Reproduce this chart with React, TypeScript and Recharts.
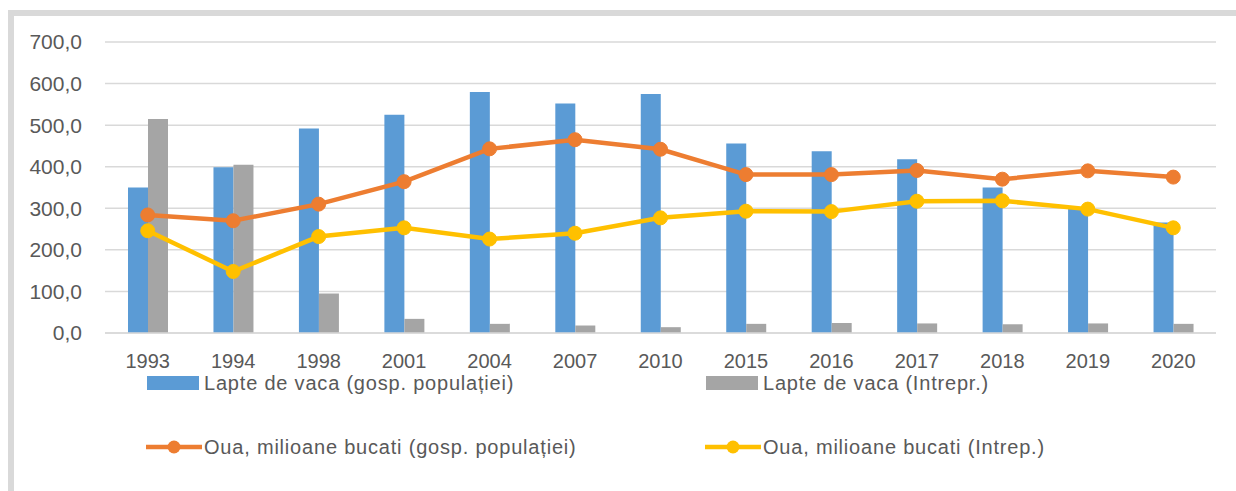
import React from 'react';
import { ComposedChart, Bar, Line, XAxis, YAxis, CartesianGrid, Legend } from 'recharts';

const years = ['1993', '1994', '1998', '2001', '2004', '2007', '2010', '2015', '2016', '2017', '2018', '2019', '2020'];
const milkHouseholds = [350, 399, 492, 525, 580, 552, 575, 456, 437, 418, 350, 303, 266];
const milkEnterprises = [515, 405, 95, 34, 22, 18, 14, 22, 24, 23, 21, 23, 22];
const eggsHouseholds = [284, 270, 310, 364, 443, 465, 442, 381, 381, 391, 370, 390, 375];
const eggsEnterprises = [246, 148, 232, 253, 226, 240, 277, 293, 292, 317, 318, 298, 253];
const yTicks = [0, 100, 200, 300, 400, 500, 600, 700];

const data = years.map((year, i) => ({
  year,
  milkHouse: milkHouseholds[i],
  milkEnt: milkEnterprises[i],
  eggsHouse: eggsHouseholds[i],
  eggsEnt: eggsEnterprises[i],
}));

const FONT = '"Liberation Sans", Arial, sans-serif';
const TEXT = '#595959';

// where each legend entry goes (column, row)
const legendSlots: Record<string, { left: number; top: number; kind: 'bar' | 'line' }> = {
  milkHouse: { left: 0, top: 0, kind: 'bar' },
  milkEnt: { left: 559, top: 0, kind: 'bar' },
  eggsHouse: { left: 0, top: 64, kind: 'line' },
  eggsEnt: { left: 559, top: 64, kind: 'line' },
};

const renderLegend = (props: any) => {
  const payload = props.payload || [];
  return (
    <div style={{ position: 'relative', width: 1000, height: 0 }}>
      {payload.map((entry: any) => {
        const slot = legendSlots[entry.dataKey];
        if (!slot) return null;
        return (
          <div
            key={entry.dataKey}
            style={{ position: 'absolute', left: slot.left, top: slot.top, display: 'flex', alignItems: 'center', whiteSpace: 'nowrap' }}
          >
            <svg width={56} height={22} style={{ display: 'block' }}>
              {slot.kind === 'bar' ? (
                <rect x={1} y={4} width={52} height={14} fill={entry.color} />
              ) : (
                <g>
                  <line x1={0} y1={11} x2={56} y2={11} stroke={entry.color} strokeWidth={4.5} strokeLinecap="round" />
                  <circle cx={28} cy={11} r={6.5} fill={entry.color} />
                </g>
              )}
            </svg>
            <span style={{ fontFamily: FONT, fontSize: 20, lineHeight: '22px', color: TEXT, letterSpacing: 0.8, marginLeft: 2 }}>
              {entry.value}
            </span>
          </div>
        );
      })}
    </div>
  );
};

export default function App() {
  return (
    <div style={{ position: 'absolute', left: 0, top: 0, width: 1236, height: 491, overflow: 'hidden', background: '#fff' }}>
      <div
        style={{
          position: 'absolute',
          left: 8,
          top: 10,
          width: 1300,
          height: 600,
          borderTop: '6px solid #d9d9d9',
          borderLeft: '6px solid #d9d9d9',
          boxSizing: 'border-box',
        }}
      />
      <div style={{ position: 'absolute', left: 0, top: 0 }}>
        <ComposedChart
          width={1236}
          height={491}
          data={data}
          barGap={0}
          margin={{ top: 42, right: 20, left: 0, bottom: 118 }}
        >
          <CartesianGrid vertical={false} stroke="#d9d9d9" strokeWidth={1.5} />
          <XAxis
            dataKey="year"
            height={40}
            tickLine={false}
            axisLine={{ stroke: '#d9d9d9', strokeWidth: 1.5 }}
            tickSize={0}
            tickMargin={21}
            tick={{ fill: TEXT, fontSize: 20, fontFamily: FONT }}
            interval={0}
          />
          <YAxis
            width={105}
            domain={[0, 700]}
            ticks={yTicks}
            tickLine={false}
            axisLine={false}
            tickSize={0}
            tickMargin={23}
            tick={{ fill: TEXT, fontSize: 21, fontFamily: FONT }}
            tickFormatter={(v: number) => v.toFixed(1).replace('.', ',')}
          />
          <Legend
            content={renderLegend}
            wrapperStyle={{ position: 'absolute', left: 146, top: 372, width: 1000, height: 0, overflow: 'visible' }}
          />
          <Bar dataKey="milkHouse" name="Lapte de vaca (gosp. populației)" fill="#5b9bd5" barSize={20} isAnimationActive={false} />
          <Bar dataKey="milkEnt" name="Lapte de vaca (Intrepr.)" fill="#a5a5a5" barSize={20} isAnimationActive={false} />
          <Line
            dataKey="eggsHouse"
            name="Oua, milioane bucati (gosp. populației)"
            stroke="#ed7d31"
            strokeWidth={4.5}
            dot={{ r: 7, fill: '#ed7d31', stroke: '#ed7d31', strokeWidth: 1 }}
            isAnimationActive={false}
          />
          <Line
            dataKey="eggsEnt"
            name="Oua, milioane bucati (Intrep.)"
            stroke="#ffc000"
            strokeWidth={4.5}
            dot={{ r: 7, fill: '#ffc000', stroke: '#ffc000', strokeWidth: 1 }}
            isAnimationActive={false}
          />
        </ComposedChart>
      </div>
    </div>
  );
}
